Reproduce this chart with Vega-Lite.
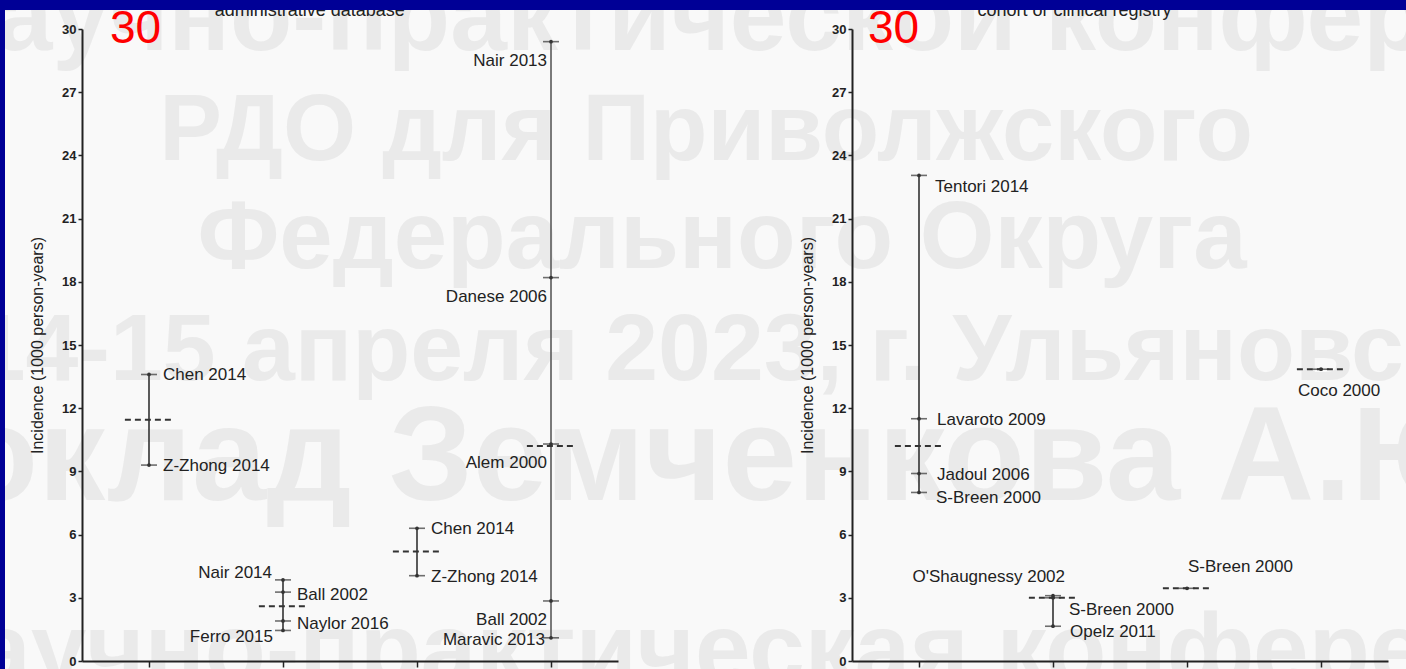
{
  "$schema": "https://vega.github.io/schema/vega-lite/v6.json",
  "width": 1401,
  "height": 659,
  "autosize": {"type": "none"},
  "padding": {"left": 5, "top": 10, "right": 0, "bottom": 0},
  "background": "#000096",
  "config": {
    "view": {"fill": "#f9f9f9", "stroke": null},
    "font": "Liberation Sans",
    "text": {"font": "Liberation Sans"}
  },
  "datasets": {
    "watermark": [
      {"line": 1, "text": "Научно-практической конференции"},
      {"line": 2, "text": "РДО для Приволжского"},
      {"line": 3, "text": "Федерального Округа"},
      {"line": 4, "text": "14-15 апреля 2023, г. Ульяновск"},
      {"line": 5, "text": "Доклад Земченкова А.Ю."},
      {"line": 6, "text": "Научно-практическая конференция"}
    ],
    "panels": [
      {"panel": "administrative database", "scaleMax": 30},
      {"panel": "cohort or clinical registry", "scaleMax": 30}
    ],
    "studies": [
      {"panel": "administrative database", "group": 1, "study": "Chen 2014", "incidence": 13.6},
      {"panel": "administrative database", "group": 1, "study": "Z-Zhong 2014", "incidence": 9.3},
      {"panel": "administrative database", "group": 2, "study": "Nair 2014", "incidence": 3.85},
      {"panel": "administrative database", "group": 2, "study": "Ball 2002", "incidence": 3.27},
      {"panel": "administrative database", "group": 2, "study": "Naylor 2016", "incidence": 1.9},
      {"panel": "administrative database", "group": 2, "study": "Ferro 2015", "incidence": 1.45},
      {"panel": "administrative database", "group": 3, "study": "Chen 2014", "incidence": 6.3},
      {"panel": "administrative database", "group": 3, "study": "Z-Zhong 2014", "incidence": 4.05},
      {"panel": "administrative database", "group": 4, "study": "Nair 2013", "incidence": 29.4},
      {"panel": "administrative database", "group": 4, "study": "Danese 2006", "incidence": 18.2},
      {"panel": "administrative database", "group": 4, "study": "Alem 2000", "incidence": 10.3},
      {"panel": "administrative database", "group": 4, "study": "Ball 2002", "incidence": 2.85},
      {"panel": "administrative database", "group": 4, "study": "Maravic 2013", "incidence": 1.1},
      {"panel": "cohort or clinical registry", "group": 1, "study": "Tentori 2014", "incidence": 23.05},
      {"panel": "cohort or clinical registry", "group": 1, "study": "Lavaroto 2009", "incidence": 11.5},
      {"panel": "cohort or clinical registry", "group": 1, "study": "Jadoul 2006", "incidence": 8.9},
      {"panel": "cohort or clinical registry", "group": 1, "study": "S-Breen 2000", "incidence": 8.0},
      {"panel": "cohort or clinical registry", "group": 2, "study": "O'Shaugnessy 2002", "incidence": 3.1},
      {"panel": "cohort or clinical registry", "group": 2, "study": "S-Breen 2000", "incidence": 3.0},
      {"panel": "cohort or clinical registry", "group": 2, "study": "Opelz 2011", "incidence": 1.65},
      {"panel": "cohort or clinical registry", "group": 3, "study": "S-Breen 2000", "incidence": 3.45},
      {"panel": "cohort or clinical registry", "group": 4, "study": "Coco 2000", "incidence": 13.85}
    ],
    "means": [
      {"panel": "administrative database", "group": 1, "mean": 11.45},
      {"panel": "administrative database", "group": 2, "mean": 2.6},
      {"panel": "administrative database", "group": 3, "mean": 5.2},
      {"panel": "administrative database", "group": 4, "mean": 10.2},
      {"panel": "cohort or clinical registry", "group": 1, "mean": 10.2},
      {"panel": "cohort or clinical registry", "group": 2, "mean": 3.0},
      {"panel": "cohort or clinical registry", "group": 3, "mean": 3.45},
      {"panel": "cohort or clinical registry", "group": 4, "mean": 13.85}
    ]
  },
  "layer": [
    {
      "data": {"name": "watermark"},
      "mark": {"type": "text", "fontWeight": "bold", "color": "#eaeaea", "align": "center", "baseline": "alphabetic", "clip": true},
      "encoding": {
        "x": {"field": "line", "type": "quantitative", "scale": {"domain": [1, 2, 3, 4, 5, 6], "range": [822, 701, 717, 707, 688, 780]}, "axis": null},
        "y": {"field": "line", "type": "quantitative", "scale": {"domain": [1, 2, 3, 4, 5, 6], "range": [40, 150, 258, 370, 490, 673]}, "axis": null},
        "size": {"field": "line", "type": "quantitative", "scale": {"domain": [1, 2, 3, 4, 5, 6], "range": [102, 94, 96, 95, 134, 100], "zero": false}, "legend": null},
        "text": {"field": "text"}
      }
    },
    {
      "data": {"name": "studies"},
      "transform": [{"filter": "datum.panel == 'administrative database'"}],
      "encoding": {
        "x": {
          "field": "group", "type": "ordinal",
          "scale": {"range": [77, 613], "paddingInner": 0, "paddingOuter": 0},
          "axis": {"orient": "bottom", "offset": -8, "labels": false, "title": null, "tickSize": 6, "tickWidth": 1.5, "tickColor": "#222", "domainColor": "#222", "domainWidth": 2, "grid": false, "zindex": 1}
        },
        "y": {
          "field": "incidence", "type": "quantitative",
          "scale": {"domain": [0, 30], "range": [651, 19], "nice": false},
          "axis": {"orient": "left", "offset": -77, "values": [0, 3, 6, 9, 12, 15, 18, 21, 24, 27, 30], "tickSize": 4, "tickWidth": 1.5, "tickColor": "#222", "domainColor": "#222", "domainWidth": 2, "labelFontSize": 13, "labelFontWeight": "bold", "labelColor": "#222", "labelPadding": 2, "labelOverlap": false, "title": "Incidence (1000 person-years)", "titleFontSize": 16, "titleFontWeight": "normal", "titleColor": "#222", "titlePadding": 16, "grid": false, "zindex": 1}
        }
      },
      "layer": [
        {
          "mark": {"type": "rule", "strokeWidth": 1.6},
          "encoding": {
            "y": {"aggregate": "min", "field": "incidence", "type": "quantitative"},
            "y2": {"aggregate": "max", "field": "incidence"},
            "color": {"condition": {"test": "datum.group == 4", "value": "#5a5a5a"}, "value": "#333"}
          }
        },
        {"mark": {"type": "tick", "color": "#333", "size": 16, "thickness": 1.6}},
        {"mark": {"type": "point", "shape": "circle", "filled": true, "color": "#333", "size": 14, "opacity": 1}},
        {
          "data": {"name": "means"},
          "transform": [{"filter": "datum.panel == 'administrative database'"}],
          "mark": {"type": "rule", "color": "#333", "strokeWidth": 2, "strokeDash": [6, 4]},
          "encoding": {
            "x": {"field": "group", "type": "ordinal", "bandPosition": 0.32},
            "x2": {"field": "group", "bandPosition": 0.68},
            "y": {"field": "mean", "type": "quantitative"}
          }
        },
        {
          "transform": [{"filter": "datum.group == 1 || datum.group == 3"}],
          "mark": {"type": "text", "align": "left", "baseline": "middle", "dx": 14, "dy": 1, "fontSize": 17, "color": "#222"},
          "encoding": {"text": {"field": "study"}}
        },
        {
          "transform": [{"filter": "datum.group == 2 && (datum.study == 'Ball 2002' || datum.study == 'Naylor 2016')"}],
          "mark": {"type": "text", "align": "left", "baseline": "middle", "dx": 14, "dy": 3, "fontSize": 17, "color": "#222"},
          "encoding": {"text": {"field": "study"}}
        },
        {
          "transform": [{"filter": "datum.group == 4 && datum.study != 'Maravic 2013'"}],
          "mark": {"type": "text", "align": "right", "baseline": "middle", "dx": -4, "dy": 19, "fontSize": 17, "color": "#222"},
          "encoding": {"text": {"field": "study"}}
        },
        {
          "transform": [{"filter": "datum.study == 'Maravic 2013'"}],
          "mark": {"type": "text", "align": "right", "baseline": "middle", "dx": -6, "dy": 2, "fontSize": 17, "color": "#222"},
          "encoding": {"text": {"field": "study"}}
        },
        {
          "transform": [{"filter": "datum.study == 'Nair 2014'"}],
          "mark": {"type": "text", "align": "right", "baseline": "middle", "dx": -11, "dy": -7, "fontSize": 17, "color": "#222"},
          "encoding": {"text": {"field": "study"}}
        },
        {
          "transform": [{"filter": "datum.study == 'Ferro 2015'"}],
          "mark": {"type": "text", "align": "right", "baseline": "middle", "dx": -10, "dy": 7, "fontSize": 17, "color": "#222"},
          "encoding": {"text": {"field": "study"}}
        },
        {
          "data": {"name": "panels"},
          "transform": [{"filter": "datum.panel == 'administrative database'"}],
          "mark": {"type": "text", "align": "center", "baseline": "middle", "fontSize": 46, "color": "#ff0000"},
          "encoding": {
            "x": {"datum": 1, "type": "ordinal", "bandPosition": 0.4},
            "y": {"field": "scaleMax", "type": "quantitative"},
            "text": {"field": "scaleMax"}
          }
        },
        {
          "data": {"name": "panels"},
          "transform": [{"filter": "datum.panel == 'administrative database'"}],
          "mark": {"type": "text", "align": "center", "baseline": "alphabetic", "dy": -13, "fontSize": 18, "color": "#222", "clip": true},
          "encoding": {
            "x": {"datum": 2, "type": "ordinal", "bandPosition": 0.7},
            "y": {"field": "scaleMax", "type": "quantitative"},
            "text": {"field": "panel"}
          }
        }
      ]
    },
    {
      "data": {"name": "studies"},
      "transform": [{"filter": "datum.panel == 'cohort or clinical registry'"}],
      "encoding": {
        "x": {
          "field": "group", "type": "ordinal",
          "scale": {"range": [847, 1383], "paddingInner": 0, "paddingOuter": 0},
          "axis": {"orient": "bottom", "offset": -8, "labels": false, "title": null, "tickSize": 6, "tickWidth": 1.5, "tickColor": "#222", "domainColor": "#222", "domainWidth": 2, "grid": false, "zindex": 1}
        },
        "y": {
          "field": "incidence", "type": "quantitative",
          "scale": {"domain": [0, 30], "range": [651, 19], "nice": false},
          "axis": {"orient": "left", "offset": -847, "values": [0, 3, 6, 9, 12, 15, 18, 21, 24, 27, 30], "tickSize": 4, "tickWidth": 1.5, "tickColor": "#222", "domainColor": "#222", "domainWidth": 2, "labelFontSize": 13, "labelFontWeight": "bold", "labelColor": "#222", "labelPadding": 2, "labelOverlap": false, "title": "Incidence (1000 person-years)", "titleFontSize": 16, "titleFontWeight": "normal", "titleColor": "#222", "titlePadding": 16, "grid": false, "zindex": 1}
        }
      },
      "layer": [
        {
          "mark": {"type": "rule", "color": "#333", "strokeWidth": 1.6},
          "encoding": {
            "y": {"aggregate": "min", "field": "incidence", "type": "quantitative"},
            "y2": {"aggregate": "max", "field": "incidence"}
          }
        },
        {"mark": {"type": "tick", "color": "#333", "size": 16, "thickness": 1.6}},
        {"mark": {"type": "point", "shape": "circle", "filled": true, "color": "#333", "size": 14, "opacity": 1}},
        {
          "data": {"name": "means"},
          "transform": [{"filter": "datum.panel == 'cohort or clinical registry'"}],
          "mark": {"type": "rule", "color": "#333", "strokeWidth": 2, "strokeDash": [6, 4]},
          "encoding": {
            "x": {"field": "group", "type": "ordinal", "bandPosition": 0.32},
            "x2": {"field": "group", "bandPosition": 0.68},
            "y": {"field": "mean", "type": "quantitative"}
          }
        },
        {
          "transform": [{"filter": "datum.group == 1 && (datum.study == 'Lavaroto 2009' || datum.study == 'Jadoul 2006')"}],
          "mark": {"type": "text", "align": "left", "baseline": "middle", "dx": 18, "dy": 1, "fontSize": 17, "color": "#222"},
          "encoding": {"text": {"field": "study"}}
        },
        {
          "transform": [{"filter": "(datum.group == 1 && datum.study == 'S-Breen 2000') || datum.study == 'Opelz 2011'"}],
          "mark": {"type": "text", "align": "left", "baseline": "middle", "dx": 17, "dy": 6, "fontSize": 17, "color": "#222"},
          "encoding": {"text": {"field": "study"}}
        },
        {
          "transform": [{"filter": "datum.study == 'Tentori 2014' || (datum.group == 2 && datum.study == 'S-Breen 2000')"}],
          "mark": {"type": "text", "align": "left", "baseline": "middle", "dx": 16, "dy": 12, "fontSize": 17, "color": "#222"},
          "encoding": {"text": {"field": "study"}}
        },
        {
          "transform": [{"filter": {"field": "study", "equal": "O'Shaugnessy 2002"}}],
          "mark": {"type": "text", "align": "right", "baseline": "middle", "dx": 12, "dy": -19, "fontSize": 17, "color": "#222"},
          "encoding": {"text": {"field": "study"}}
        },
        {
          "transform": [{"filter": "datum.group == 3"}],
          "mark": {"type": "text", "align": "left", "baseline": "middle", "dx": 1, "dy": -21, "fontSize": 17, "color": "#222"},
          "encoding": {"text": {"field": "study"}}
        },
        {
          "transform": [{"filter": "datum.group == 4"}],
          "mark": {"type": "text", "align": "left", "baseline": "middle", "dx": -23, "dy": 22, "fontSize": 17, "color": "#222"},
          "encoding": {"text": {"field": "study"}}
        },
        {
          "data": {"name": "panels"},
          "transform": [{"filter": "datum.panel == 'cohort or clinical registry'"}],
          "mark": {"type": "text", "align": "center", "baseline": "middle", "fontSize": 46, "color": "#ff0000"},
          "encoding": {
            "x": {"datum": 1, "type": "ordinal", "bandPosition": 0.31},
            "y": {"field": "scaleMax", "type": "quantitative"},
            "text": {"field": "scaleMax"}
          }
        },
        {
          "data": {"name": "panels"},
          "transform": [{"filter": "datum.panel == 'cohort or clinical registry'"}],
          "mark": {"type": "text", "align": "center", "baseline": "alphabetic", "dy": -13, "fontSize": 18, "color": "#222", "clip": true},
          "encoding": {
            "x": {"datum": 2, "type": "ordinal", "bandPosition": 0.66},
            "y": {"field": "scaleMax", "type": "quantitative"},
            "text": {"field": "panel"}
          }
        }
      ]
    }
  ],
  "resolve": {
    "scale": {"x": "independent", "y": "independent", "size": "independent", "color": "independent"},
    "axis": {"x": "independent", "y": "independent"}
  }
}
